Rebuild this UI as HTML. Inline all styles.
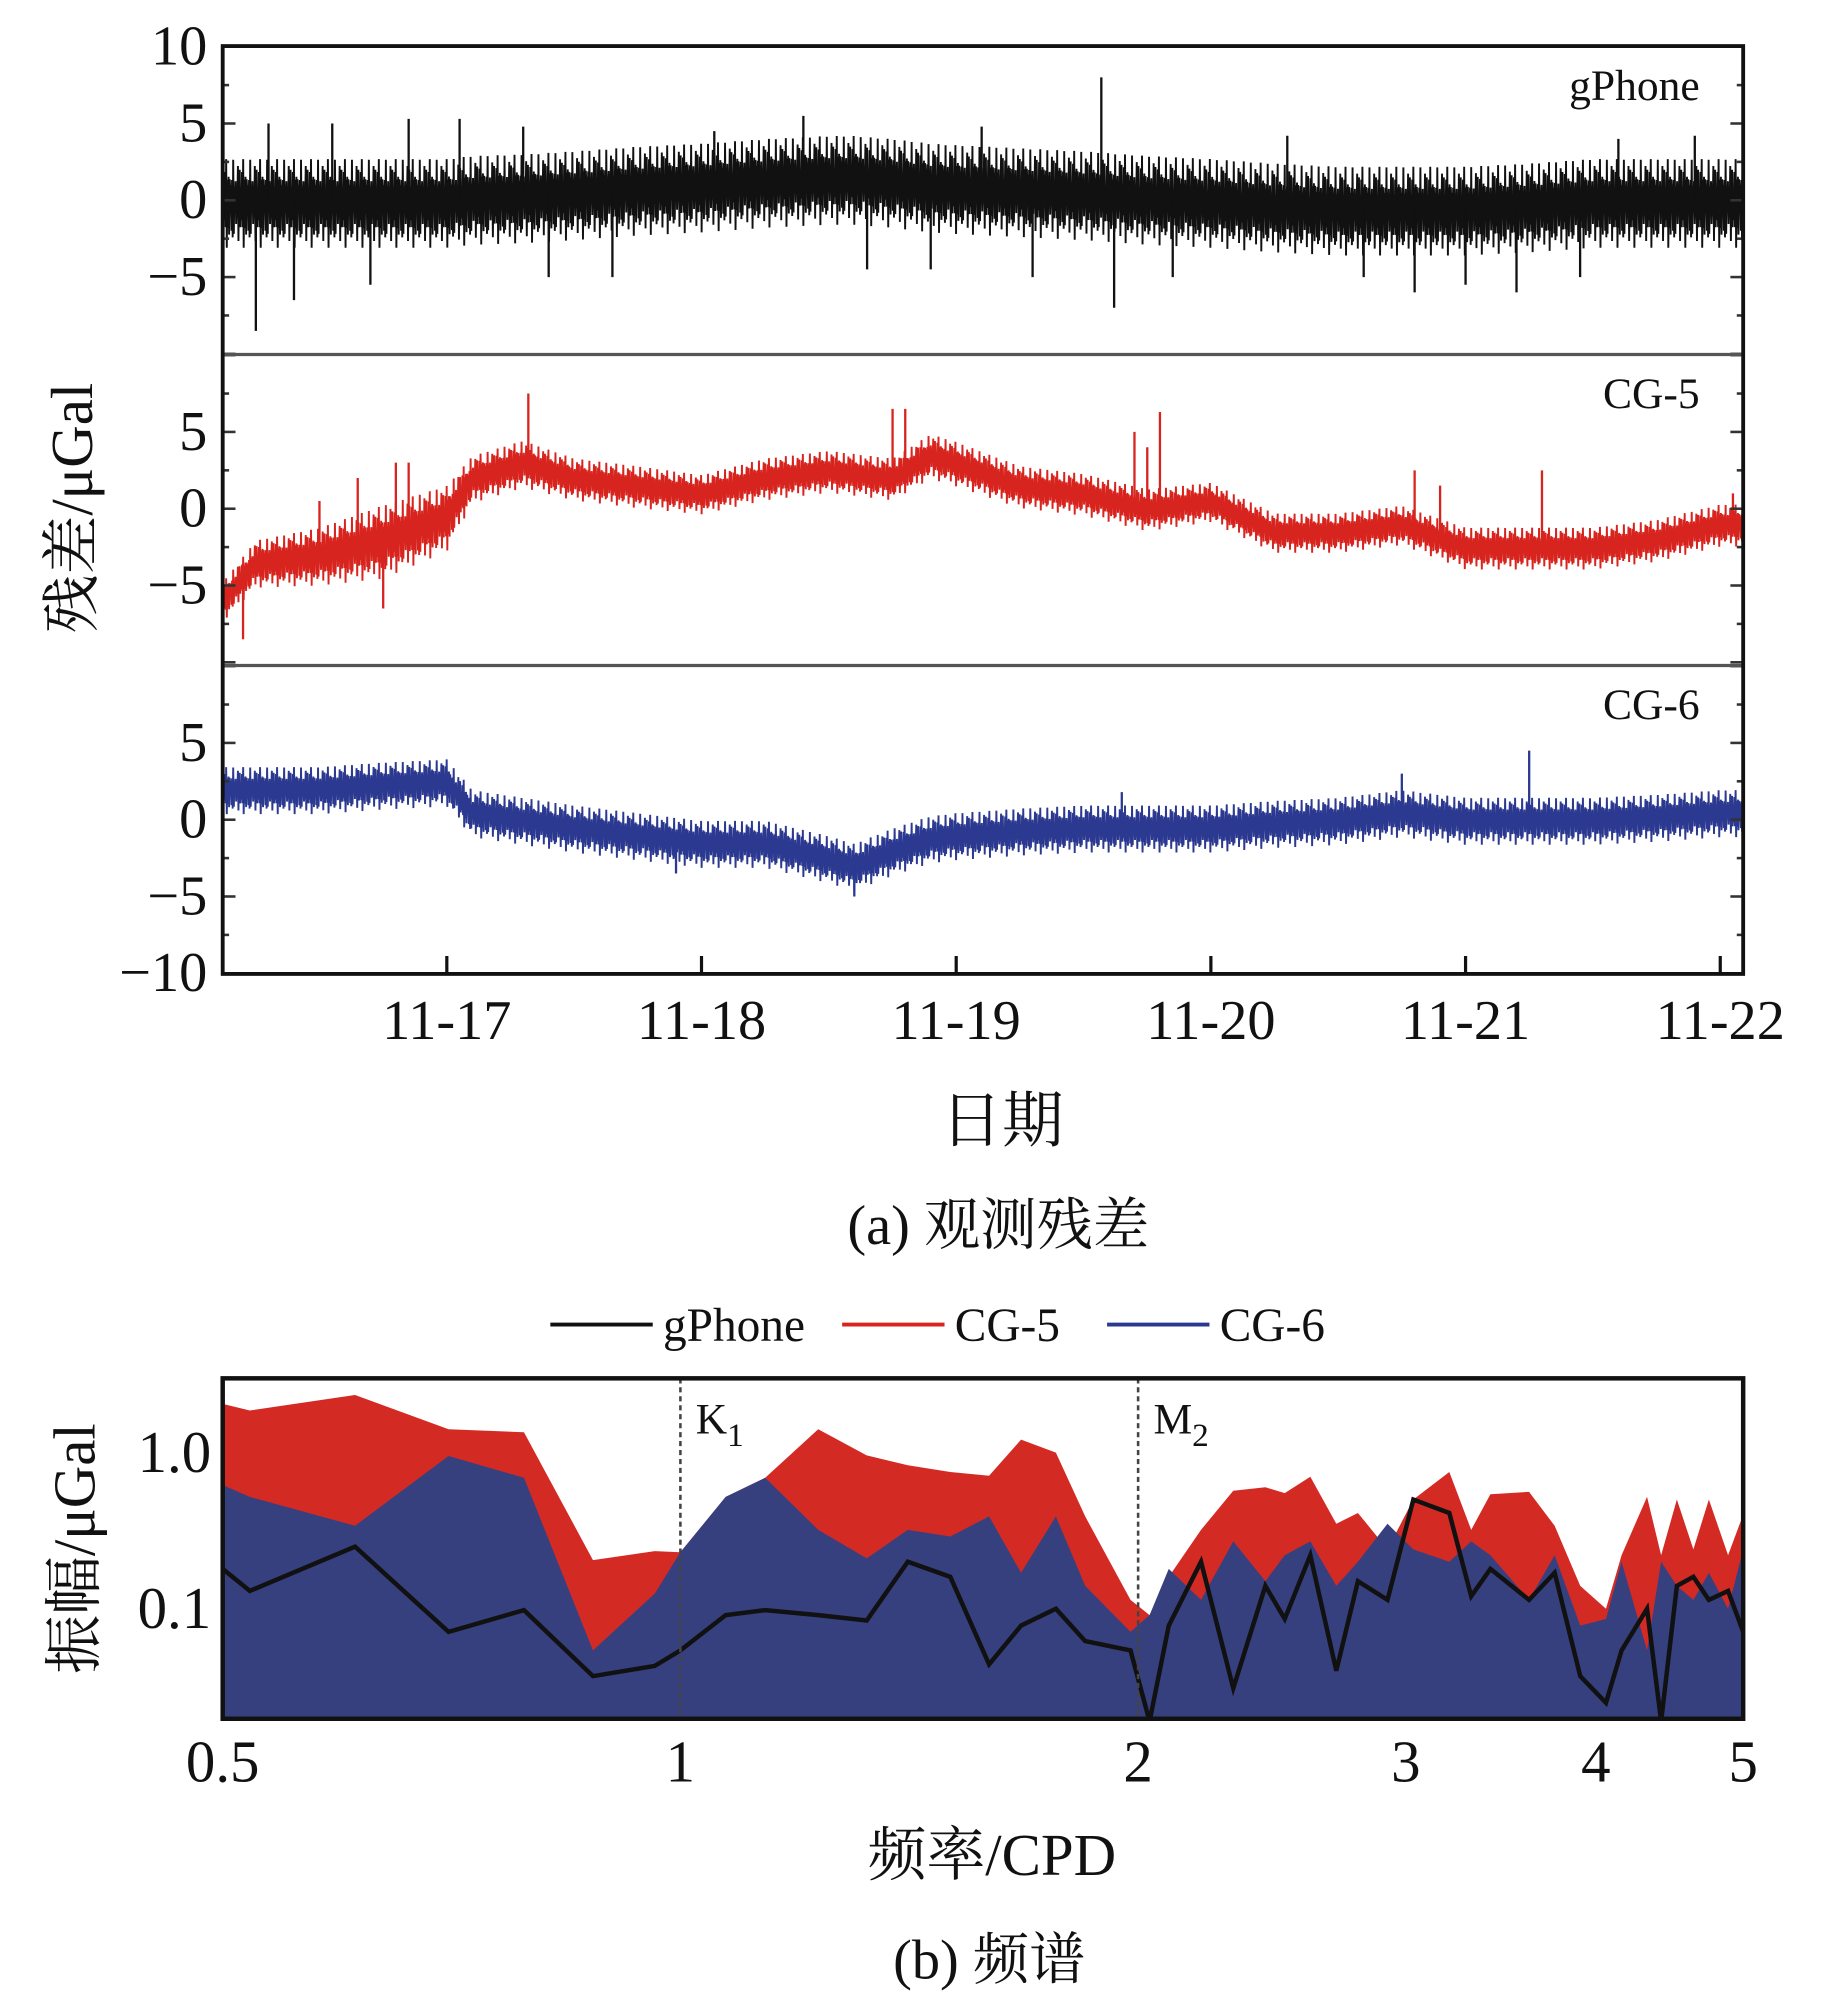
<!DOCTYPE html>
<html><head><meta charset="utf-8">
<style>
html,body{margin:0;padding:0;background:#fff;}
svg{display:block;}
text{font-family:"Liberation Serif","Noto Serif CJK SC",serif;fill:#111;}
</style></head>
<body>
<svg id="fig" width="1843" height="2008" viewBox="0 0 1440 1569" preserveAspectRatio="none" xmlns="http://www.w3.org/2000/svg">
<g id="topchart"></g>
<g id="botchart"></g>
</svg>
<script>
// ---------- Chart (a) data ----------
const dayTicks = [17,18,19,20,21,22];
const dayTickLabels = ["11-17","11-18","11-19","11-20","11-21","11-22"];
const panelNames = ["gPhone","CG-5","CG-6"];
const trendTimes = [16.12,16.25,16.5,16.75,17.0,17.1,17.3,17.5,17.75,18.0,18.25,18.5,18.6,18.75,18.9,19.0,19.25,19.5,19.75,20.0,20.25,20.5,20.75,21.0,21.25,21.5,21.75,22.0,22.09];
const gphoneTrend = [0,0,0,0,0,0.2,0.3,0.5,0.8,1,1.3,1.5,1.5,1.3,1,0.9,0.7,0.5,0.2,0,-0.3,-0.5,-0.5,-0.5,-0.3,0,0,0,0];
const cg5Trend = [-6,-3.5,-3,-2,-0.5,2,3,2,1.5,1,2,2.5,2.3,2,3.5,3,1.5,1,0,0.5,-1.5,-1.5,-1,-2.5,-2.5,-2.5,-2,-1,-1];
const cg6Trend = [2,2,2,2.3,2.5,0.5,0,-0.5,-1,-1.5,-1.5,-2.5,-3,-2,-1.2,-1,-0.7,-0.5,-0.5,-0.5,-0.2,0,0.5,0,0,0,0.2,0.5,0.5];
const cg5Width = [1.5,1.8,2.2,2.8,2.5,1.8,1.8,1.6,1.6,1.5,1.6,1.6,1.6,1.6,1.7,1.7,1.6,1.6,1.6,1.5,1.5,1.5,1.5,1.6,1.6,1.6,1.6,1.6,1.6];
const noiseHalfWidth = [3.4,1,1.8];
const noisePattern = [0.9,-0.7,0.4,-1,0.6,-0.3,1,-0.8,0.2,-0.6,0.8,-0.9,0.5,-0.2,0.7,-1,0.3,-0.5,0.95,-0.75,0.1,-0.4,0.65,-0.85,0.35,-0.15,0.75,-0.55,0.25];
const gphoneSpikes = [[16.25,-8.5],[16.3,5],[16.4,-6.5],[16.55,5],[16.7,-5.5],[16.85,5.3],[17.05,5.3],[17.3,4.8],[17.4,-5],[17.65,-5],[18.05,4.5],[18.4,5.5],[18.65,-4.5],[18.9,-4.5],[19.1,4.8],[19.3,-5],[19.57,8],[19.62,-7],[19.85,-5],[20.3,4.2],[20.6,-5],[20.8,-6],[21.0,-5.5],[21.2,-6],[21.45,-5],[21.6,4],[21.9,4.2]];
const cg5Spikes = [[16.2,-8.5],[16.5,0.5],[16.65,2],[16.75,-6.5],[16.8,3],[16.85,3],[17.32,7.5],[18.75,6.5],[18.8,6.5],[19.7,5],[19.75,4],[19.8,6.3],[20.8,2.5],[20.9,1.5],[21.3,2.5],[22.05,1]];
const cg6Spikes = [[21.25,4.5],[18.6,-5],[17.9,-3.5],[20.75,3],[19.65,1.8]];

// ---------- Chart (b) data ----------
const freqs = [0.5,0.521,0.611,0.704,0.789,0.876,0.962,1.0,1.071,1.137,1.232,1.326,1.411,1.505,1.596,1.675,1.766,1.846,1.977,2.035,2.095,2.2,2.31,2.425,2.497,2.596,2.7,2.79,2.918,3.034,3.204,3.312,3.41,3.615,3.758,3.907,4.062,4.159,4.323,4.416,4.522,4.637,4.747,4.887,5.0];
const cg5Amp = [2.05,1.86,2.34,1.41,1.35,0.205,0.234,0.23,0.52,0.69,1.41,0.96,0.83,0.75,0.71,1.21,1.0,0.39,0.114,0.091,0.16,0.32,0.57,0.6,0.55,0.7,0.35,0.41,0.24,0.5,0.75,0.32,0.54,0.56,0.34,0.14,0.1,0.22,0.52,0.22,0.5,0.24,0.5,0.22,0.4];
const cg6Amp = [0.62,0.52,0.34,0.95,0.69,0.054,0.125,0.23,0.52,0.69,0.32,0.21,0.32,0.29,0.39,0.17,0.39,0.14,0.071,0.091,0.18,0.114,0.27,0.15,0.22,0.27,0.14,0.2,0.35,0.24,0.2,0.27,0.22,0.114,0.22,0.078,0.086,0.2,0.054,0.2,0.14,0.114,0.17,0.1,0.24];
const gphoneAmp = [0.18,0.13,0.25,0.071,0.098,0.037,0.043,0.054,0.091,0.098,0.091,0.084,0.2,0.16,0.044,0.078,0.1,0.062,0.054,0.019,0.078,0.2,0.031,0.14,0.086,0.22,0.04,0.15,0.114,0.5,0.41,0.12,0.18,0.114,0.17,0.037,0.025,0.054,0.1,0.019,0.14,0.16,0.114,0.13,0.071];
const freqTicks = [0.5,1,2,3,4,5];
const freqTickLabels = ["0.5","1","2","3","4","5"];
const ampTicks = [1.0,0.1];
const ampTickLabels = ["1.0","0.1"];

const NS="http://www.w3.org/2000/svg";
function mk(parent,tag,attrs,txt){const e=document.createElementNS(NS,tag);for(const k in attrs)e.setAttribute(k,attrs[k]);if(txt!==undefined)e.textContent=txt;parent.appendChild(e);return e;}

// ----- chart (a) -----
const topG=document.getElementById('topchart');
const L=174,R=1362,T=36,B=761;
const tMin=16.12,tMax=22.09;
const xT=t=>L+(t-tMin)/(tMax-tMin)*(R-L);
const panelTop=[36,277,520], panelH=241, unit=12;
const yP=(p,v)=>panelTop[p]+panelH/2-v*unit;
const colors=["#111111","#d8241e","#2b3990"];
const trends=[gphoneTrend,cg5Trend,cg6Trend];
const spikes=[gphoneSpikes,cg5Spikes,cg6Spikes];
function interp(t,arr){for(let i=0;i<trendTimes.length-1;i++){if(t<=trendTimes[i+1]){const f=(t-trendTimes[i])/(trendTimes[i+1]-trendTimes[i]);return arr[i]+f*(arr[i+1]-arr[i]);}}return arr[arr.length-1];}
const clipA=mk(topG,'clipPath',{id:'clipA'});mk(clipA,'rect',{x:L,y:T,width:R-L,height:B-T});
for(let p=0;p<3;p++){
  const g=mk(topG,'g',{'clip-path':'url(#clipA)'});
  
  
  let d='';const N=2600;const n=noisePattern.length;
  for(let i=0;i<=N;i++){const t=tMin+(tMax-tMin)*i/N;
    const w=noiseHalfWidth[p]*(p===1?interp(t,cg5Width):1);
    const m=0.45+0.55*Math.abs(noisePattern[(i*7+3)%n]);
    const v=interp(t,trends[p])+w*noisePattern[i%n]*m+0.35*w*noisePattern[(i*5+11)%n];
    d+=(i?'L':'M')+xT(t).toFixed(1)+' '+yP(p,v).toFixed(1);}
  mk(g,'path',{d:d,fill:'none',stroke:colors[p],'stroke-width':1.5});
  let sd='';spikes[p].forEach(s=>{sd+='M'+xT(s[0]).toFixed(1)+' '+yP(p,interp(s[0],trends[p])).toFixed(1)+'L'+xT(s[0]).toFixed(1)+' '+yP(p,s[1]).toFixed(1);});
  mk(g,'path',{d:sd,stroke:colors[p],'stroke-width':1.8});
  const tk=mk(topG,'g',{stroke:'#333','stroke-width':2});
  [-10,-7.5,-5,-2.5,0,2.5,5,7.5,10].forEach(v=>{const y=yP(p,v);if(y<=T+1||y>=B-1)return;const len=(v%5===0)?10:5;mk(tk,'line',{x1:L,x2:L+len,y1:y,y2:y});mk(tk,'line',{x1:R,x2:R-len,y1:y,y2:y});});
  const labs=p===0?[10,5,0,-5]:p===1?[5,0,-5]:[5,0,-5,-10];
  labs.forEach(v=>{const t=mk(topG,'text',{x:162,y:yP(p,v)+14,'font-size':44,'text-anchor':'end'},v<0?'\u2212'+(-v):String(v));});
  const nm=mk(topG,'text',{x:1328,y:panelTop[p]+42,'font-size':34,'text-anchor':'end'},panelNames[p]);
  
  
}
mk(topG,'line',{x1:L,x2:R,y1:277,y2:277,stroke:'#555','stroke-width':2.5});
mk(topG,'line',{x1:L,x2:R,y1:520,y2:520,stroke:'#555','stroke-width':2.5});
mk(topG,'rect',{x:L,y:T,width:R-L,height:B-T,fill:'none',stroke:'#111','stroke-width':3});
dayTicks.forEach((d,i)=>{const x=xT(d);mk(topG,'line',{x1:x,x2:x,y1:B,y2:B-14,stroke:'#111','stroke-width':2.5});
  const t=mk(topG,'text',{x:x,y:812,'font-size':44,'text-anchor':'middle'},dayTickLabels[i]);
  });
let yt=mk(topG,'text',{x:0,y:0,'font-size':46,'text-anchor':'middle',transform:'translate(72,397) rotate(-90)'},'残差/μGal');

let xt=mk(topG,'text',{x:783,y:892,'font-size':48,'text-anchor':'middle'},'日期');

let ca=mk(topG,'text',{x:780,y:972,'font-size':44,'text-anchor':'middle'},'(a) 观测残差');


// ----- chart (b) -----
const botG=document.getElementById('botchart');
const bL=174,bR=1362,bT=1077,bB=1343;
const xFs=f=>bL+(Math.log(f/0.5)/Math.log(10))*(bR-bL);
const yA=a=>1135-Math.log10(a)*122;
const clipB=mk(botG,'clipPath',{id:'clipB'});mk(clipB,'rect',{x:bL,y:bT,width:bR-bL,height:bB-bT});
function area(arr,col,name){let d='M'+xFs(freqs[0])+' '+bB;freqs.forEach((f,i)=>{d+='L'+xFs(f).toFixed(1)+' '+yA(arr[i]).toFixed(1);});d+='L'+xFs(freqs[freqs.length-1])+' '+bB+'Z';const e=mk(botG,'path',{d:d,fill:col,'clip-path':'url(#clipB)'});}
area(cg5Amp,'#d42a24','cg5-spectrum-area');
area(cg6Amp,'#36407f','cg6-spectrum-area');
let ld='';freqs.forEach((f,i)=>{ld+=(i?'L':'M')+xFs(f).toFixed(1)+' '+yA(gphoneAmp[i]).toFixed(1);});
const gl=mk(botG,'path',{d:ld,fill:'none',stroke:'#111','stroke-width':3.5,'stroke-linejoin':'miter','clip-path':'url(#clipB)'});

[[1,'K','1'],[2,'M','2']].forEach(m=>{const x=xFs(m[0]);mk(botG,'line',{x1:x,x2:x,y1:bT,y2:bB,stroke:'#444','stroke-width':2,'stroke-dasharray':'4,3'});
  const t=mk(botG,'text',{x:x+12,y:1120,'font-size':34});
  t.textContent=m[1];mk(t,'tspan',{'font-size':26,dy:10},m[2]);});
mk(botG,'rect',{x:bL,y:bT,width:bR-bL,height:bB-bT,fill:'none',stroke:'#111','stroke-width':3.5});
freqTicks.forEach((f,i)=>{const t=mk(botG,'text',{x:xFs(f),y:1392,'font-size':46,'text-anchor':'middle'},freqTickLabels[i]);});
ampTicks.forEach((a,i)=>{const t=mk(botG,'text',{x:165,y:yA(a)+15,'font-size':46,'text-anchor':'end'},ampTickLabels[i]);});
let yt2=mk(botG,'text',{x:0,y:0,'font-size':46,'text-anchor':'middle',transform:'translate(74,1210) rotate(-90)'},'振幅/μGal');

let xt2=mk(botG,'text',{x:775,y:1465,'font-size':46,'text-anchor':'middle'},'频率/CPD');

let cb=mk(botG,'text',{x:773,y:1546,'font-size':44,'text-anchor':'middle'},'(b) 频谱');

const legNames=['gPhone','CG-5','CG-6'],legCols=['#111','#d8241e','#2b3990'],legX=[430,658,865];
legNames.forEach((n,i)=>{const g=mk(botG,'g',{});
  mk(g,'line',{x1:legX[i],x2:legX[i]+80,y1:1035,y2:1035,stroke:legCols[i],'stroke-width':3});
  mk(g,'text',{x:legX[i]+88,y:1048,'font-size':37},n);});
</script>
</body></html>
